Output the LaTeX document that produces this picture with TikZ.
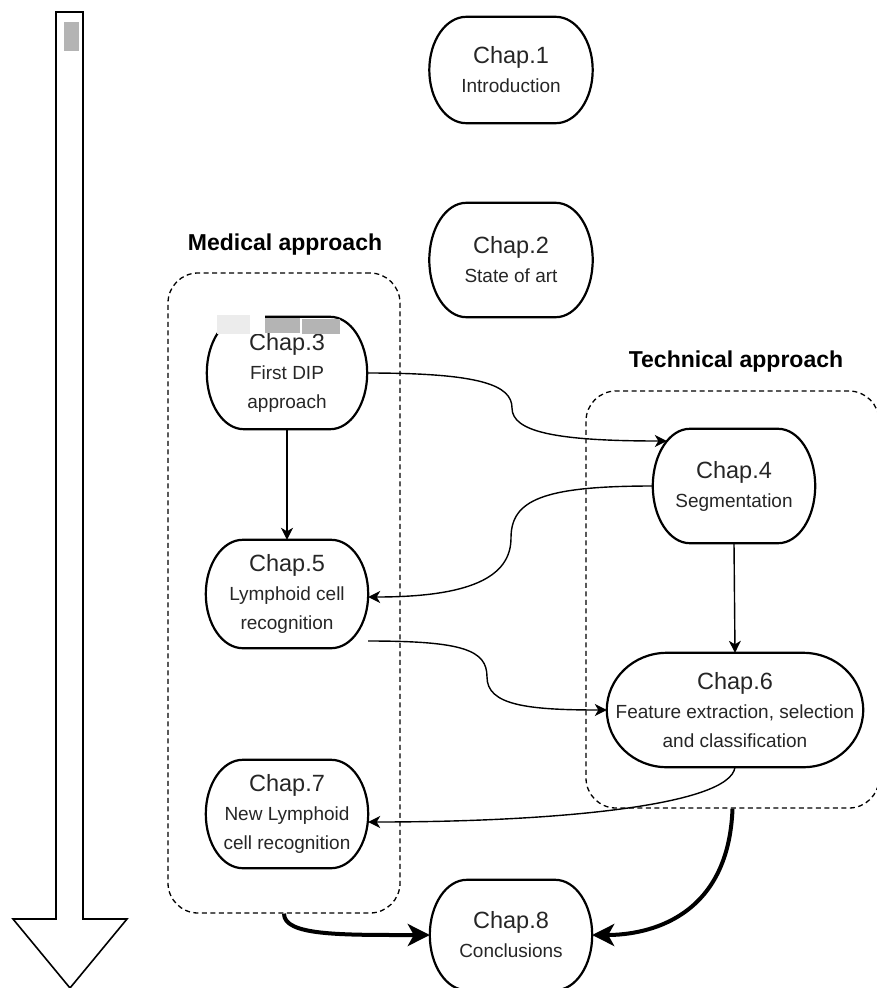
\documentclass[tikz,border=0pt]{standalone}
\usepackage{fontspec}
\setmainfont{Liberation Sans}
\usetikzlibrary{arrows.meta,calc}

\pgfdeclarelayer{edgelayer}
\pgfdeclarelayer{shapelayer}
\pgfsetlayers{edgelayer,shapelayer,main}

\definecolor{inkgray}{HTML}{262626}
\definecolor{smudge}{HTML}{B4B4B4}
\definecolor{smudgelight}{HTML}{ECECEC}

% Title line of a chapter bubble
\newcommand\chaptitle[1]{{\fontsize{23.5}{29}\selectfont #1}}

% Outline of a chapter bubble: flat top and bottom, half-elliptic ends.
% #1 node name, #2 horizontal radius of the ends (pt)
\newcommand\chapoutline[2]{%
  \path[chapline] let \p1=(#1.north west), \p2=(#1.south east),
    \n1={#2}, \n2={(\y1-\y2)/2}, \n3={0.5523*#2}, \n4={0.5523*(\y1-\y2)/2} in
    ({\x1+\n1},\y1) -- ({\x2-\n1},\y1)
    .. controls ({\x2-\n1+\n3},\y1) and (\x2,{\y1-\n2+\n4}) .. (\x2,{\y1-\n2})
    .. controls (\x2,{\y2+\n2-\n4}) and ({\x2-\n1+\n3},\y2) .. ({\x2-\n1},\y2)
    -- ({\x1+\n1},\y2)
    .. controls ({\x1+\n1-\n3},\y2) and (\x1,{\y2+\n2-\n4}) .. (\x1,{\y2+\n2})
    .. controls (\x1,{\y1-\n2+\n4}) and ({\x1+\n1-\n3},\y1) .. ({\x1+\n1},\y1)
    -- cycle;%
}

\begin{document}
\begin{tikzpicture}[x=1pt,y=-1pt,
  chap/.style={rectangle, draw=none, inner sep=0pt, align=center,
    text=inkgray, font=\fontsize{19}{29}\selectfont},
  chapline/.style={draw=black, line width=2.2pt, fill=white},
  group/.style={rectangle, draw=black, dashed, dash pattern=on 5pt off 3.5pt,
    line width=1.3pt, rounded corners=30pt, inner sep=0pt},
  grouplabel/.style={font=\fontsize{23}{28}\selectfont\bfseries, text=black},
  edge/.style={draw=black, line width=1.4pt,
    -{Stealth[length=12pt,width=12pt,inset=3.5pt]}},
  bigedge/.style={draw=black, line width=4pt,
    -{Stealth[length=22pt,width=22pt,inset=6pt]}},
  timeline/.style={draw=black, line width=1.6pt, fill=white, line join=miter}
]
\useasboundingbox (0,0) rectangle (876,988);

% chapter bubbles
\node[chap, minimum width=163pt, minimum height=106pt] (c1) at (511,70)
  {\chaptitle{Chap.1}\\Introduction};
\node[chap, minimum width=163pt, minimum height=114pt] (c2) at (511,260)
  {\chaptitle{Chap.2}\\State of art};
\node[chap, minimum width=160pt, minimum height=112pt] (c3) at (287,373)
  {\chaptitle{Chap.3}\\First DIP\\approach};
\node[chap, minimum width=162pt, minimum height=114pt] (c4) at (734,486)
  {\chaptitle{Chap.4}\\Segmentation};
\node[chap, minimum width=162pt, minimum height=108pt] (c5) at (287,594)
  {\chaptitle{Chap.5}\\Lymphoid cell\\recognition};
\node[chap, minimum width=256pt, minimum height=114pt] (c6) at (735,710)
  {\chaptitle{Chap.6}\\Feature extraction, selection\\and classification};
\node[chap, minimum width=162pt, minimum height=108pt] (c7) at (287,814)
  {\chaptitle{Chap.7}\\New Lymphoid\\cell recognition};
\node[chap, minimum width=162pt, minimum height=110pt] (c8) at (511,935)
  {\chaptitle{Chap.8}\\Conclusions};

% group labels
\node[grouplabel] (lmed) at (285,245) {Medical approach};
\node[grouplabel] (ltech) at (736,362) {Technical approach};

\begin{pgfonlayer}{edgelayer}
  % dashed groups
  \node[group, minimum width=232pt, minimum height=640pt] (med) at (284,593) {};
  \node[group, minimum width=293pt, minimum height=417pt] (tech) at (732.5,599.5) {};

  % reading order arrow
  \draw[timeline] (56,12) -- (83,12) -- (83,919) -- (127,919) -- (70,988)
    -- (13,919) -- (56,919) -- cycle;

  % dependencies between chapters
  \draw[edge] (c3.south) -- (c5.north);
  \draw[edge] (c4.south) -- (c6.north);
  \draw[edge] (c3.east) .. controls +(113,0) and +(0,-23) .. (512,408)
    .. controls +(0,24) and +(-110,0) .. ([shift={(14,-45)}]c4.west);
  \draw[edge] (c4.west) .. controls +(-110,0) and +(0,-38) .. (511,538)
    .. controls +(0,40) and +(100,0) .. ([shift={(0,3)}]c5.east);
  \draw[edge] ([shift={(0,47)}]c5.east) .. controls +(95,0) and +(0,-27) .. (487,677)
    .. controls +(0,28) and +(-80,0) .. (c6.west);
  \draw[edge] (c6.south) .. controls +(-5,38) and +(190,0) .. ([shift={(0,8)}]c7.east);
  \draw[bigedge] (med.south) .. controls +(0,22) and +(-90,0) .. (c8.west);
  \draw[bigedge] (tech.south) .. controls +(-4,110) and +(55,0) .. (c8.east);
\end{pgfonlayer}

\begin{pgfonlayer}{shapelayer}
  \chapoutline{c1}{37}
  \chapoutline{c2}{37}
  \chapoutline{c3}{37}
  \chapoutline{c4}{37}
  \chapoutline{c5}{37}
  \chapoutline{c6}{60}
  \chapoutline{c7}{37}
  \chapoutline{c8}{37}
\end{pgfonlayer}

% grey smudges
\fill[smudge] (64,22) rectangle (79,51);
\fill[smudgelight] (217,315) rectangle (250,334);
\fill[white] (250,315) rectangle (265,334);
\fill[smudge] (265,318) rectangle (300,333);
\fill[smudge] (302,319) rectangle (340,334);
\end{tikzpicture}
\end{document}
